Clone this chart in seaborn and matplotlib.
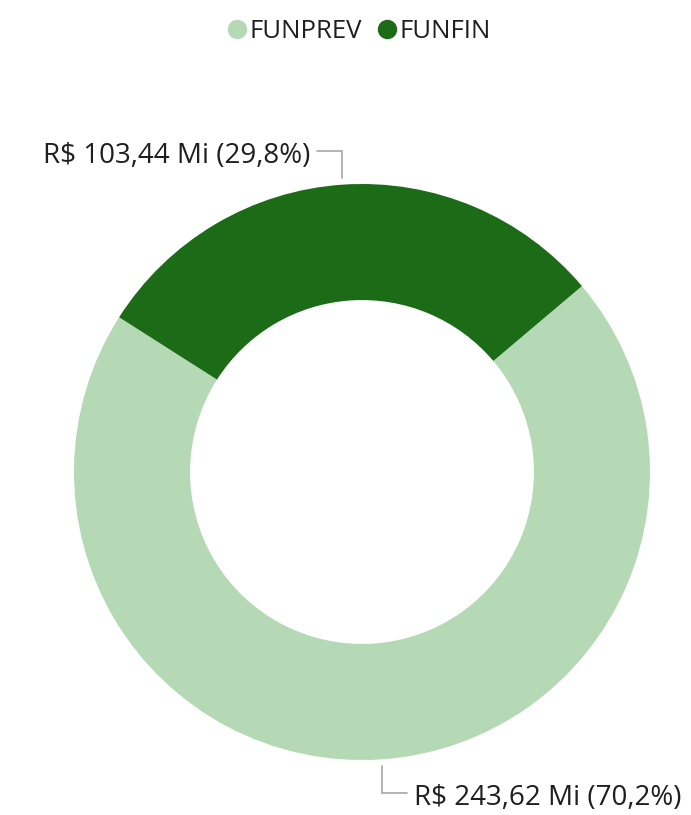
import numpy as np
import matplotlib
matplotlib.use("Agg")
import matplotlib.pyplot as plt
import seaborn as sns

# Valores por fundo (R$ milhões)
categories = ["FUNPREV", "FUNFIN"]
values = [243.62, 103.44]
value_labels = ["R$ 243,62 Mi (70,2%)", "R$ 103,44 Mi (29,8%)"]
colors = ["#B5D9B4", "#1B6B17"]

sns.set_theme(style="white")
plt.rcParams["font.family"] = ["Open Sans", "DejaVu Sans"]

W, H = 691, 815
fig = plt.figure(figsize=(W / 100, H / 100), dpi=100)
ax = fig.add_axes([0, 0, 1, 1])

cx, cy = 362, H - 472
R = 288
ring = 0.403

wedges, _ = ax.pie(
    values, colors=colors, startangle=147.5, counterclock=True,
    center=(cx, cy), radius=R, frame=True,
    wedgeprops=dict(width=R * ring, edgecolor="none", linewidth=0),
)
ax.set_xlim(0, W)
ax.set_ylim(0, H)
ax.set_aspect("equal")
ax.axis("off")

# Rótulos com linhas-guia
line_col = "#A6A6A6"
text_col = "#201F1E"
for w, lab in zip(wedges, value_labels):
    mid = np.deg2rad((w.theta1 + w.theta2) / 2)
    x0 = cx + (R + 7) * np.cos(mid)
    y0 = cy + (R + 7) * np.sin(mid)
    up = np.sign(np.sin(mid))
    y1 = y0 + up * 27
    side = -1 if up > 0 else 1
    x1 = x0 + side * 25
    ax.plot([x0, x0, x1], [y0, y1, y1], color=line_col, lw=1.2,
            solid_joinstyle="miter")
    ax.text(x1 + side * 7, y1 - 5, lab, ha="right" if side < 0 else "left",
            va="center", fontsize=20, color=text_col)

# Legenda
handles = [plt.Line2D([], [], marker="o", ls="", markersize=14,
                      markerfacecolor=c, markeredgecolor="none") for c in colors]
fig.legend(handles, categories, loc="center", bbox_to_anchor=(0.508, 1 - 31 / H),
           ncol=2, frameon=False, fontsize=18.5, handletextpad=-0.52,
           columnspacing=0.0, labelcolor=text_col)

fig.savefig("out.png", dpi=100)
